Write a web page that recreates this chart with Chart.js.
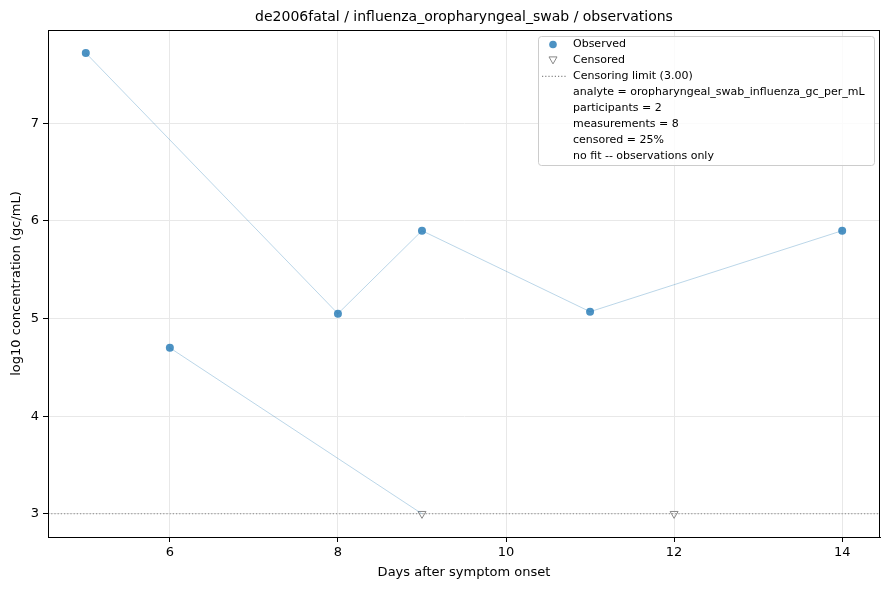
<!DOCTYPE html>
<html lang="en">
<head>
  <meta charset="UTF-8" />
  <title>de2006fatal observations</title>
  <script src="https://cdn.jsdelivr.net/npm/chart.js"></script>
  <style>
    html, body { margin: 0; padding: 0; background: #fff; }
    .chart-container { width: 889px; height: 590px; }
  </style>
</head>
<body>
  <div class="chart-container">
    <canvas id="obsChart"></canvas>
  </div>

  <script>
    const titleText = 'de2006fatal / influenza_oropharyngeal_swab / observations';

    // participant A (all observed)
    const daysA = [5, 8, 9, 11, 14];
    const valuesA = [7.72, 5.05, 5.90, 5.07, 5.90];
    // participant B: first observed, then censored at the limit
    const daysB = [6, 9];
    const valuesB = [4.70, 3.00];
    const censoredDays = [9, 12];
    const censoredValues = [3.00, 3.00];

    const limit = 3.00;
    const xTicks = [6, 8, 10, 12, 14];
    const yTicks = [3, 4, 5, 6, 7];
    const infoLines = [
      'analyte = oropharyngeal_swab_influenza_gc_per_mL',
      'participants = 2',
      'measurements = 8',
      'censored = 25%',
      'no fit -- observations only'
    ];

    const FONT = 'DejaVu Sans';
    const blue = 'rgba(31, 119, 180, 0.8)';
    const lineBlue = 'rgba(31, 119, 180, 0.3)';
    const grey = '#888888';

    const pts = (xs, ys) => xs.map((x, i) => ({ x: x, y: ys[i] }));

    // frame, censoring limit, title and legend in one plugin
    const decor = {
      id: 'decor',
      beforeDatasetsDraw(chart) {
        const { ctx, chartArea: a, scales } = chart;
        const y = scales.y.getPixelForValue(limit);
        ctx.save();
        ctx.strokeStyle = grey;
        ctx.lineWidth = 1.2;
        ctx.setLineDash([1.2, 2]);
        ctx.beginPath();
        ctx.moveTo(a.left, y);
        ctx.lineTo(a.right, y);
        ctx.stroke();
        ctx.restore();
      },
      afterDraw(chart) {
        const { ctx, chartArea: a } = chart;
        ctx.save();
        ctx.strokeStyle = '#000';
        ctx.lineWidth = 1;
        ctx.strokeRect(a.left + 0.5, a.top + 0.5, a.right - a.left - 1, a.bottom - a.top);

        ctx.fillStyle = '#000';
        ctx.font = '14px "' + FONT + '"';
        ctx.textAlign = 'center';
        ctx.textBaseline = 'middle';
        ctx.fillText(titleText, (a.left + a.right) / 2, 17);

        // legend box
        const bx = 538, by = 36, bw = 336, bh = 129;
        ctx.fillStyle = 'rgba(255,255,255,0.8)';
        ctx.strokeStyle = '#cccccc';
        ctx.lineWidth = 1;
        ctx.beginPath();
        ctx.roundRect(bx + 0.5, by + 0.5, bw, bh, 3);
        ctx.fill();
        ctx.stroke();

        const tx = 573, step = 15.9;
        let ly = 44.5;
        ctx.font = '11px "' + FONT + '"';
        ctx.textAlign = 'left';
        ctx.fillStyle = '#000';

        ctx.fillStyle = blue;
        ctx.beginPath();
        ctx.arc(553, ly, 3.8, 0, Math.PI * 2);
        ctx.fill();
        ctx.fillStyle = '#000';
        ctx.fillText('Observed', tx, ly);
        ly += step;

        ctx.strokeStyle = grey;
        ctx.beginPath();
        ctx.moveTo(549, ly - 3.5);
        ctx.lineTo(557, ly - 3.5);
        ctx.lineTo(553, ly + 3.5);
        ctx.closePath();
        ctx.stroke();
        ctx.fillText('Censored', tx, ly);
        ly += step;

        ctx.strokeStyle = grey;
        ctx.lineWidth = 1.2;
        ctx.setLineDash([1.2, 2]);
        ctx.beginPath();
        ctx.moveTo(542, ly);
        ctx.lineTo(566, ly);
        ctx.stroke();
        ctx.setLineDash([]);
        ctx.fillText('Censoring limit (' + limit.toFixed(2) + ')', tx, ly);
        ly += step;

        infoLines.forEach(t => {
          ctx.fillText(t, tx, ly);
          ly += step;
        });
        ctx.restore();
      }
    };

    const config = {
      type: 'scatter',
      data: {
        datasets: [
          {
            label: 'participant A',
            data: pts(daysA, valuesA),
            showLine: true,
            borderColor: lineBlue,
            borderWidth: 1,
            pointRadius: 4,
            pointBackgroundColor: blue,
            pointBorderColor: blue,
            pointBorderWidth: 0
          },
          {
            label: 'participant B line',
            data: pts(daysB, valuesB),
            showLine: true,
            borderColor: lineBlue,
            borderWidth: 1,
            pointRadius: 0
          },
          {
            label: 'participant B observed',
            data: pts(daysB.slice(0, 1), valuesB.slice(0, 1)),
            pointRadius: 4,
            pointBackgroundColor: blue,
            pointBorderColor: blue,
            pointBorderWidth: 0
          },
          {
            label: 'Censored',
            data: pts(censoredDays, censoredValues),
            pointStyle: 'triangle',
            rotation: 180,
            pointRadius: 4.6,
            pointBackgroundColor: 'rgba(255,255,255,0)',
            pointBorderColor: grey,
            pointBorderWidth: 1
          }
        ]
      },
      options: {
        responsive: false,
        animation: false,
        layout: { padding: { top: 30, right: 9, left: 0, bottom: 0 } },
        plugins: {
          legend: { display: false },
          tooltip: { enabled: false }
        },
        scales: {
          x: {
            type: 'linear',
            min: 4.55,
            max: 14.45,
            afterBuildTicks: s => { s.ticks = xTicks.map(v => ({ value: v })); },
            afterFit: s => { s.height = 53; },
            grid: { color: '#e8e8e8', tickColor: '#000', tickLength: 5 },
            border: { color: '#000' },
            ticks: { color: '#000', font: { family: FONT, size: 13 }, padding: 3 },
            title: {
              display: true,
              text: 'Days after symptom onset',
              color: '#000',
              font: { family: FONT, size: 13 },
              padding: { top: 0, bottom: 10 }
            }
          },
          y: {
            type: 'linear',
            min: 2.762,
            max: 7.956,
            afterBuildTicks: s => { s.ticks = yTicks.map(v => ({ value: v })); },
            afterFit: s => { s.width = 48; },
            grid: { color: '#e8e8e8', tickColor: '#000', tickLength: 5 },
            border: { color: '#000' },
            ticks: { color: '#000', font: { family: FONT, size: 13 }, padding: 4 },
            title: {
              display: true,
              text: 'log10 concentration (gc/mL)',
              color: '#000',
              font: { family: FONT, size: 13 },
              padding: { bottom: 0, top: 9 }
            }
          }
        }
      },
      plugins: [decor]
    };

    const canvas = document.getElementById('obsChart');
    canvas.width = 889;
    canvas.height = 590;
    new Chart(canvas, config);
  </script>
</body>
</html>
